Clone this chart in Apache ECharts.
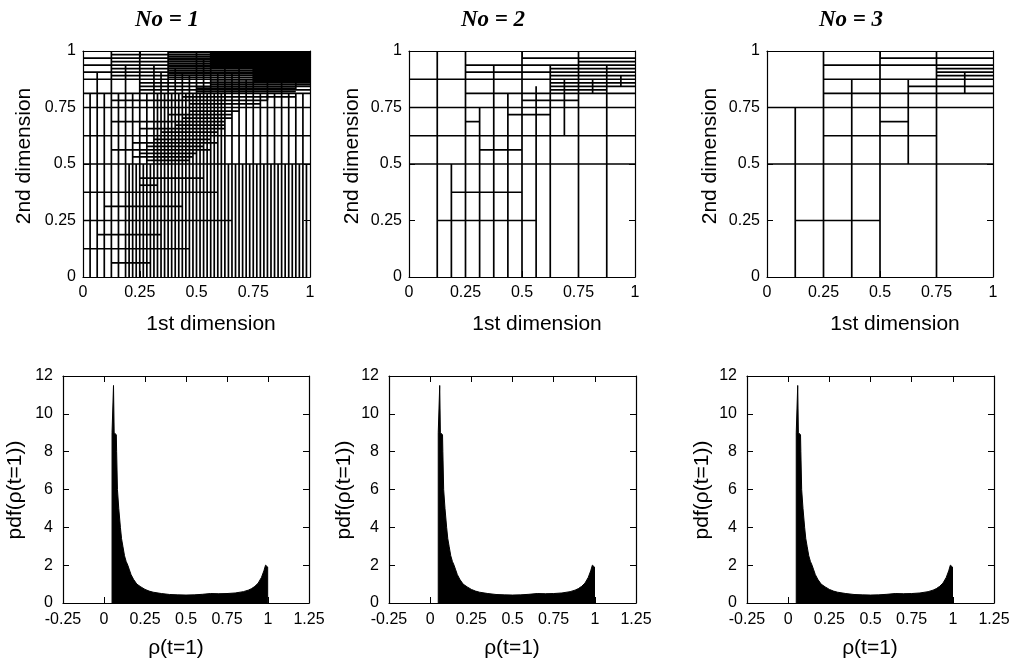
<!DOCTYPE html>
<html><head><meta charset="utf-8">
<script src="https://cdn.jsdelivr.net/npm/echarts@6/dist/echarts.min.js"></script>
<style>html,body{margin:0;padding:0;background:#fff}#c{width:1012px;height:663px}</style>
</head><body><div id="c"></div>
<script>
// ---------- DATA (partition lines in units of 1/64 of the unit square) ----------
const PANEL_TITLES = ['No = 1', 'No = 2', 'No = 3'];
// No = 1 : x positions of vertical lines in band y 0 .. 32/64
const P1_VX_LOW = [2,4,6,8,10,12,13,14,15,16,17,18,19,20,21,22,23,24,25,26,27,28,29,30,31,32,33,34,35,36,37,38,39,40,41,42,43,44,45,46,47,48,49,50,51,52,53,54,55,56,57,58,59,60,61,62,63];
// No = 1 : x positions of vertical lines in band y 32/64 .. 52/64
const P1_VX_MID = [2,4,6,8,10,12,14,16,18,20,21,22,23,24,25,26,27,28,29,30,31,32,33,34,35,36,37,38,39,40,42,44,46,48,50,52,54,56,58,60,62];
// No = 1 : other vertical segments [x, y0, y1]
const P1_V_TOP = [[4,52,58],[8,52,64],[12,52,60],[16,52,64],[20,52,60],[22,52,58],[24,52,64],[26,52,59],[28,52,58],[30,52,57],[32,52,64],[34,52,62],[36,52,64],[38,52,58],[40,50,64],[42,52,58],[44,52,62],[46,52,56],[48,52,64],[52,50,62],[56,52,62],[60,53,60]];
// No = 1 : horizontal segments [y, x0, x1]
const P1_H = [
 [32,0,64],[28,16,34],[26,16,21],[24,0,38],[20,6,28],[16,0,42],[12,4,22],[8,0,30],[4,8,19],
 [40,0,64],[48,0,64],[52,0,64],[56,0,64],[58,0,64],[60,0,64],[62,0,64],
 [57,8,64],[59,8,64],[61,8,64],[63,8,64],[53,16,64],[54,16,64],[55,16,64],
 [50,8,52],[33,18,30],[34,14,31],[35,16,32],[36,8,36],[37,18,34],[38,14,38],[39,20,36],[41,22,38],[42,16,40],[43,26,40],[44,8,40],[45,28,42],[46,24,42],[47,30,44],[49,30,50],[51,28,60],
 [52.5,32,60],[53.5,32,60],[54.5,36,64],[55.5,36,64],[56.5,24,64],[57.5,24,64],[58.5,24,64],[59.5,24,64],[60.5,24,64],[61.5,24,64],[62.5,24,64],[63.5,24,64],
 [59.25,36,64],[59.75,36,64],[60.25,36,64],[60.75,36,64],[61.25,36,64],[61.75,36,64],[62.25,36,64],[62.75,36,64],[63.25,36,64],[63.75,36,64],
 [55.25,48,64],[55.75,48,64],[56.25,48,64],[56.75,48,64],[57.25,48,64],[57.75,48,64],[58.25,48,64],[58.75,48,64]
];
// No = 2
const P2_V = [[8,0,64],[16,0,64],[12,0,32],[20,0,48],[24,0,60],[28,0,52],[32,0,64],[36,0,54],[40,0,60],[44,40,56],[48,0,64],[52,52,56],[56,0,60],[60,54,57]];
const P2_H = [[56,0,64],[48,0,64],[40,0,64],[32,0,64],[16,8,36],[24,12,32],[36,20,32],[44,16,20],[46,28,40],[52,16,64],[50,32,48],[60,16,64],[58,16,64],[62,32,64],[61,48,64],[59,40,64],[57,40,64],[55,40,64],[54,40,64],[53,40,56]];
// No = 3
const P3_V = [[8,0,48],[16,0,64],[24,0,56],[32,0,64],[40,32,56],[48,0,64],[56,52,58]];
const P3_H = [[32,0,64],[48,0,64],[16,8,32],[40,16,48],[44,32,40],[52,16,64],[56,16,64],[54,40,64],[60,16,64],[62,32,64],[59,48,64],[58,48,64],[57,48,64]];
// pdf of rho(t=1) (outline of the filled histogram)
const RHO = [0.049,0.049,0.058,0.058,0.062,0.062,0.075,0.077,0.082,0.09,0.1,0.107,0.115,0.125,0.135,0.145,0.155,0.165,0.18,0.2,0.225,0.25,0.275,0.3,0.35,0.4,0.45,0.5,0.55,0.6,0.65,0.7,0.75,0.8,0.85,0.88,0.9,0.92,0.94,0.96,0.975,0.985,0.99,0.998,0.998];
const PDF = [0,9.0,9.0,11.5,11.5,9.0,8.9,8.0,6.0,5.0,4.0,3.4,3.0,2.5,2.2,2.0,1.75,1.5,1.25,1.0,0.85,0.72,0.63,0.57,0.5,0.45,0.43,0.42,0.43,0.46,0.5,0.49,0.5,0.53,0.6,0.68,0.76,0.88,1.05,1.35,1.7,2.0,1.9,1.9,0];

// ---------- BUILD ----------
function segments(vx, vyRange, vList, hList) {
  const out = [];
  vx.forEach(function (x) { out.push([x / 64, vyRange[0] / 64, x / 64, vyRange[1] / 64]); });
  vList.forEach(function (s) { out.push([s[0] / 64, s[1] / 64, s[0] / 64, s[2] / 64]); });
  hList.forEach(function (s) { out.push([s[1] / 64, s[0] / 64, s[2] / 64, s[0] / 64]); });
  return out;
}
const part1 = segments(P1_VX_LOW, [0, 32], [], [])
  .concat(segments(P1_VX_MID, [32, 52], P1_V_TOP, P1_H));
const part2 = segments([], [0, 0], P2_V, P2_H);
const part3 = segments([], [0, 0], P3_V, P3_H);
const parts = [part1, part2, part3];
const hist = RHO.map(function (x, i) { return [x, PDF[i]]; });

const SANS = 'Liberation Sans';
const gridBoxes = [
  {left: 83, top: 51, width: 227, height: 226},
  {left: 409, top: 51, width: 226, height: 226},
  {left: 767, top: 51, width: 226, height: 226},
  {left: 63, top: 376, width: 246, height: 227},
  {left: 389, top: 376, width: 247, height: 227},
  {left: 747, top: 376, width: 247, height: 227}
];
const grids = gridBoxes.map(function (g) { return Object.assign({outerBoundsMode: 'none', containLabel: false}, g); });
const xAxes = [], yAxes = [], series = [];

function axis(gi, pos, min, max, interval, showLabel, margin) {
  return {
    type: 'value', gridIndex: gi, position: pos, min: min, max: max, interval: interval,
    axisLine: {show: true, onZero: false, lineStyle: {color: '#000', width: 1.2}},
    axisTick: {show: true, inside: true, length: 6, lineStyle: {color: '#000', width: 1}},
    axisLabel: {show: showLabel, color: '#000', fontFamily: SANS, fontSize: 16, margin: margin},
    splitLine: {show: false}
  };
}

for (let i = 0; i < 3; i++) {
  xAxes.push(axis(i, 'bottom', 0, 1, 0.25, true, 8));
  xAxes.push(axis(i, 'top', 0, 1, 0.25, false, 8));
  yAxes.push(axis(i, 'left', 0, 1, 0.25, true, 7));
  yAxes.push(axis(i, 'right', 0, 1, 0.25, false, 7));
  series.push({
    type: 'custom', xAxisIndex: 2 * i, yAxisIndex: 2 * i,
    data: parts[i], encode: {x: [0, 2], y: [1, 3]}, silent: true, clip: true,
    renderItem: function (params, api) {
      const a = api.coord([api.value(0), api.value(1)]);
      const b = api.coord([api.value(2), api.value(3)]);
      return {type: 'line', shape: {x1: a[0], y1: a[1], x2: b[0], y2: b[1]},
              style: {stroke: '#000', lineWidth: 1.7}};
    }
  });
}
for (let i = 3; i < 6; i++) {
  xAxes.push(axis(i, 'bottom', -0.25, 1.25, 0.25, true, 9));
  xAxes.push(axis(i, 'top', -0.25, 1.25, 0.25, false, 9));
  yAxes.push(axis(i, 'left', 0, 12, 2, true, 10));
  yAxes.push(axis(i, 'right', 0, 12, 2, false, 10));
  series.push({
    type: 'line', xAxisIndex: 2 * i, yAxisIndex: 2 * i, data: hist,
    symbol: 'none', silent: true, clip: true, smooth: false,
    lineStyle: {color: '#000', width: 1}, areaStyle: {color: '#000', opacity: 1}
  });
}

function txt(x, y, text, font, rot) {
  return {type: 'text', x: x, y: y, rotation: rot || 0, silent: true,
    style: {text: text, font: font, fill: '#000', align: 'center', verticalAlign: 'middle',
            textAlign: 'center', textVerticalAlign: 'middle'}};
}
const TITLE_FONT = 'italic bold 23px "Liberation Serif"';
const NAME_FONT = '21px "Liberation Sans"';
const graphics = [];
const titleX = [167, 493, 851];
const xNameTopX = [211, 537, 895];
const yNameTopX = [24, 352, 710];
const yNameBotX = [15, 344, 702];
const xNameBotX = [176, 512, 870];
for (let i = 0; i < 3; i++) {
  graphics.push(txt(titleX[i], 20, PANEL_TITLES[i], TITLE_FONT));
  graphics.push(txt(xNameTopX[i], 324, '1st dimension', NAME_FONT));
  graphics.push(txt(yNameTopX[i], 156, '2nd dimension', NAME_FONT, Math.PI / 2));
  graphics.push(txt(yNameBotX[i], 490, 'pdf(\u03c1(t=1))', NAME_FONT, Math.PI / 2));
  graphics.push(txt(xNameBotX[i], 648, '\u03c1(t=1)', NAME_FONT));
}

const chart = echarts.init(document.getElementById('c'), null, {renderer: 'canvas'});
chart.setOption({
  animation: false,
  backgroundColor: '#fff',
  grid: grids, xAxis: xAxes, yAxis: yAxes, series: series,
  graphic: graphics
});
</script></body></html>
